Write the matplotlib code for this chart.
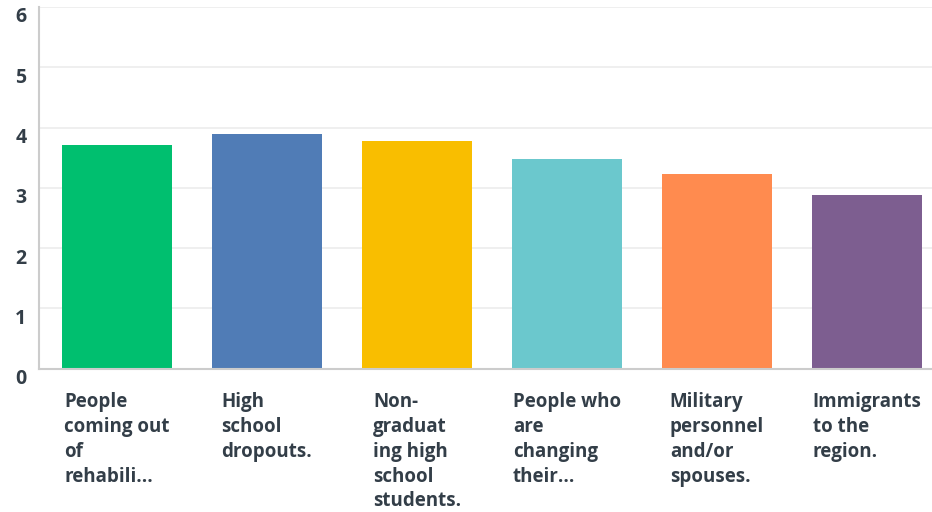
import matplotlib
matplotlib.use('Agg')
import matplotlib.pyplot as plt
import matplotlib.transforms as mtransforms

# 数据
categories = ['People\ncoming out\nof\nrehabili...',
              'High\nschool\ndropouts.',
              'Non-\ngraduat\ning high\nschool\nstudents.',
              'People who\nare\nchanging\ntheir...',
              'Military\npersonnel\nand/or\nspouses.',
              'Immigrants\nto the\nregion.']
values = [3.71, 3.89, 3.78, 3.48, 3.23, 2.88]
colors = ['#00bf6f', '#507cb6', '#f9be00', '#6bc8cd', '#ff8b4f', '#7d5e90']
yticks = [0, 1, 2, 3, 4, 5, 6]

text_color = '#333e48'
plt.rcParams['font.family'] = ['Open Sans', 'DejaVu Sans']

fig = plt.figure(figsize=(9.32, 5.12), dpi=100)
ax = fig.add_axes([39 / 932, 1 - 368.5 / 512, 900 / 932, (368.5 - 7) / 512])

x = list(range(len(categories)))
ax.bar(x, values, width=0.727, color=colors, zorder=2)

ax.set_xlim(-0.52, len(categories) - 0.52)
ax.set_ylim(0, 6)
ax.set_yticks(yticks)
ax.set_yticklabels([str(t) for t in yticks], fontsize=14, fontweight='bold', color=text_color)
ax.grid(axis='y', color='#ececec', linewidth=1.2, zorder=0)
ax.tick_params(axis='y', length=0, pad=9)

ax.set_xticks(x)
ax.set_xticklabels(categories, fontsize=13.5, fontweight='bold', color=text_color,
                   ha='center', va='top', multialignment='left', linespacing=1.32)
ax.tick_params(axis='x', length=0, pad=17)

# y轴标签往下挪一点
offset = mtransforms.ScaledTranslation(0, -8 / 100, fig.dpi_scale_trans)
for label in ax.get_yticklabels():
    label.set_transform(label.get_transform() + offset)

for side in ['top', 'right']:
    ax.spines[side].set_visible(False)
ax.spines['left'].set_color('#cccccc')
ax.spines['left'].set_linewidth(1.5)
ax.spines['bottom'].set_color('#cccccc')
ax.spines['bottom'].set_linewidth(1.5)

fig.savefig('out.png', dpi=100)
